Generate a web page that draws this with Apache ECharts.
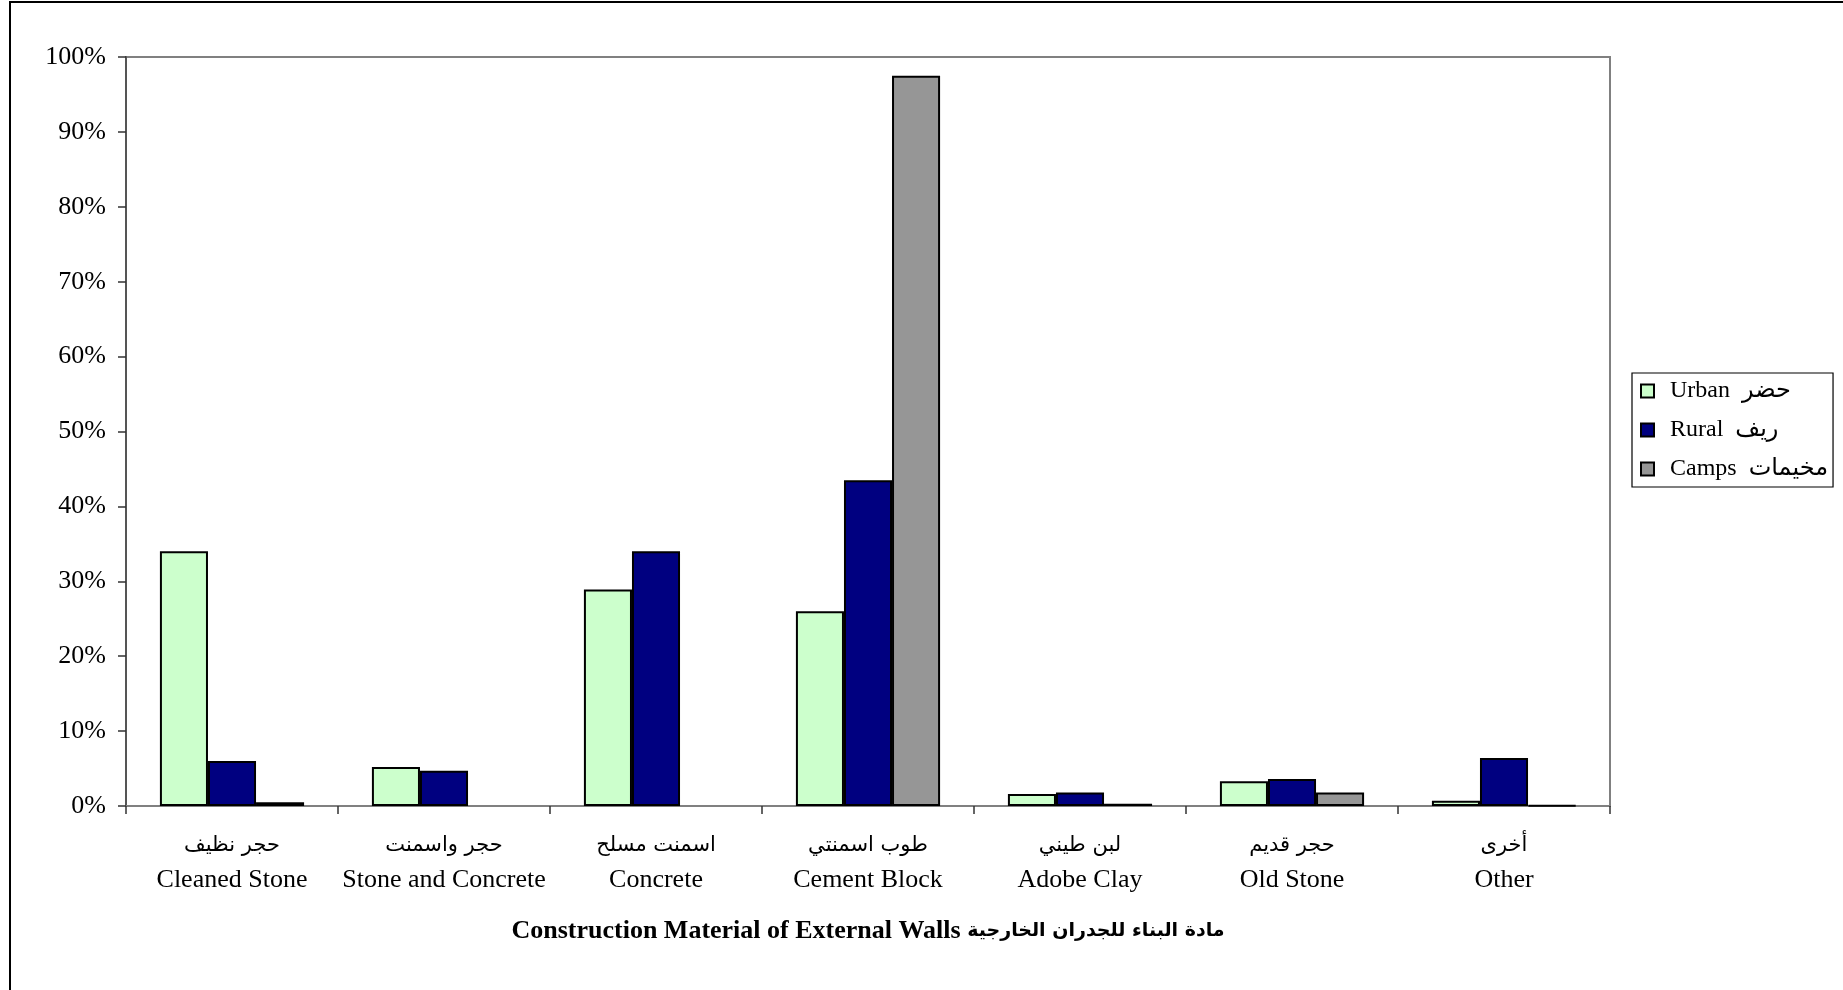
<!DOCTYPE html>
<html>
<head>
<meta charset="utf-8">
<script src="https://cdn.jsdelivr.net/npm/echarts@6/dist/echarts.min.js"></script>
<style>
html,body{margin:0;padding:0;background:#fff;}
#chart{width:1843px;height:990px;}
</style>
</head>
<body>
<div id="chart"></div>
<script>
const categoriesAr = ['حجر نظيف', 'حجر واسمنت', 'اسمنت مسلح', 'طوب اسمنتي', 'لبن طيني', 'حجر قديم', 'أخرى'];
const categoriesEn = ['Cleaned Stone', 'Stone and Concrete', 'Concrete', 'Cement Block', 'Adobe Clay', 'Old Stone', 'Other'];
const urban = [34.0, 5.2, 28.9, 26.0, 1.6, 3.3, 0.7];
const rural = [6.0, 4.7, 34.0, 43.5, 1.8, 3.6, 6.4];
const camps = [0.5, null, null, 97.5, 0.3, 1.8, 0.1];
const seriesNames = ['Urban  حضر', 'Rural  ريف', 'Camps  مخيمات'];
const yTicks = [0, 10, 20, 30, 40, 50, 60, 70, 80, 90, 100];
const axisTitleEn = 'Construction Material of External Walls';
const axisTitleAr = 'مادة البناء للجدران الخارجية';

const serif = '"Liberation Serif", "DejaVu Serif", "DejaVu Sans", serif';
const chart = echarts.init(document.getElementById('chart'));
const colors = ['#CCFFCC', '#000080', '#969696'];
const datas = [urban, rural, camps];

chart.setOption({
  animation: false,
  backgroundColor: '#fff',
  graphic: [{
    type: 'rect',
    shape: {x: 10, y: 2, width: 2100, height: 1200},
    style: {fill: null, stroke: '#000', lineWidth: 2},
    silent: true
  }],
  grid: {
    left: 126, top: 57, right: 233, bottom: 184,
    show: true, borderColor: '#808080', borderWidth: 2, backgroundColor: 'transparent'
  },
  legend: {
    orient: 'vertical',
    left: 1632, top: 373,
    padding: [5, 5, 5, 8],
    borderColor: '#000', borderWidth: 1.2,
    itemWidth: 13, itemHeight: 13, itemGap: 13,
    icon: 'rect',
    textStyle: {fontFamily: serif, fontSize: 24, color: '#000', padding: [0, 0, 0, 11], lineHeight: 26},
    data: seriesNames
  },
  xAxis: {
    type: 'category',
    data: categoriesEn.map((e, i) => categoriesAr[i] + '|' + e),
    axisLine: {lineStyle: {color: '#808080', width: 2}},
    axisTick: {show: true, length: 8, lineStyle: {color: '#333', width: 1.5}},
    axisLabel: {
      interval: 0,
      margin: 23,
      formatter: function (v) {
        const p = v.split('|');
        return '{ar|' + p[0] + '}\n{en|' + p[1] + '}';
      },
      rich: {
        ar: {fontFamily: '"DejaVu Sans", sans-serif', fontSize: 21, lineHeight: 34, color: '#000'},
        en: {fontFamily: serif, fontSize: 26, lineHeight: 34, color: '#000'}
      }
    },
    name: '{en|' + axisTitleEn + '}{ar| ' + axisTitleAr + '}',
    nameLocation: 'middle',
    nameGap: 112,
    nameTextStyle: {
      rich: {
        en: {fontFamily: serif, fontWeight: 'bold', fontSize: 26, color: '#000'},
        ar: {fontFamily: '"DejaVu Sans", sans-serif', fontWeight: 'bold', fontSize: 19, color: '#000'}
      }
    }
  },
  yAxis: {
    type: 'value',
    min: 0, max: 100, interval: 10,
    axisLine: {show: true, lineStyle: {color: '#555', width: 2}},
    axisTick: {show: true, length: 8, lineStyle: {color: '#333', width: 1.5}},
    splitLine: {show: false},
    axisLabel: {
      margin: 20,
      fontFamily: serif, fontSize: 26, color: '#000',
      formatter: function (v) { return yTicks.indexOf(v) >= 0 ? v + '%' : ''; }
    }
  },
  series: datas.map((d, i) => ({
    name: seriesNames[i],
    type: 'bar',
    data: d,
    barGap: '0%',
    barCategoryGap: '32%',
    itemStyle: {color: colors[i], borderColor: '#000', borderWidth: 2}
  }))
});
</script>
</body>
</html>
